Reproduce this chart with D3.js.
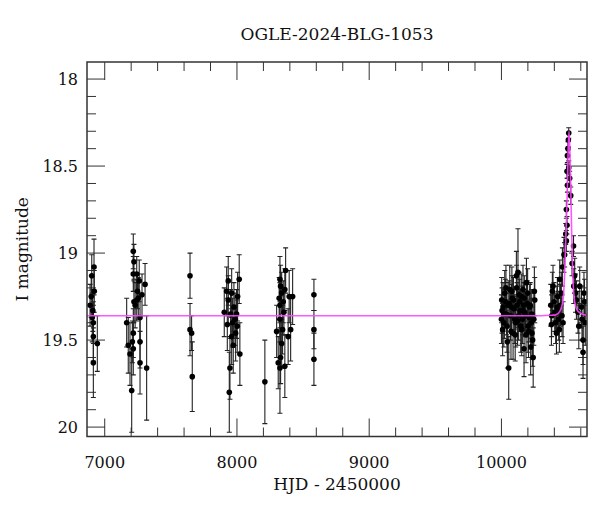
<!DOCTYPE html>
<html>
<head>
<meta charset="utf-8">
<script src="https://cdn.jsdelivr.net/npm/d3@7"></script>
<style>
  body { margin: 0; background: #fff; }
  text { font-family: 'DejaVu Serif', serif; fill: #111; }
</style>
</head>
<body>
<div id="chart"></div>
<script>
// photometry (HJD - 2450000, I mag, error)
const hjd = [
  6889, 6902, 6919, 6921, 6906, 6914, 6914, 6944, 6914, 6898, 6910,
  7166, 7178, 7191, 7204, 7216, 7216, 7209, 7216, 7221, 7216, 7221, 7242, 7242, 7261, 7254, 7267, 7267, 7267, 7282, 7305, 7317, 7248, 7230,
  7645, 7645, 7657, 7662,
  7904, 7922, 7927, 7934, 7942, 7947, 7952, 7960, 7960, 7967, 7972, 7977, 7985, 7990, 7997, 8005, 8017, 8022, 8002, 7934,
  8211,
  8300, 8312, 8325, 8330, 8338, 8325, 8330, 8338, 8319, 8325, 8325, 8345, 8355, 8362, 8368, 8362, 8350, 8387, 8395, 8406, 8421,
  8582, 8582, 8582,
  10000, 10012, 10025, 10045, 10055, 10063, 10076, 10088, 10101, 10113, 10125, 10138, 10146, 10163, 10171, 10176, 10189, 10201, 10214, 10221, 10231, 10252,
  10005, 10018, 10030, 10038, 10050, 10068, 10082, 10095, 10108, 10118, 10130, 10142, 10150, 10158, 10168, 10182, 10195, 10208, 10218, 10226, 10236, 10240,
  10002, 10009, 10022, 10034, 10042, 10058, 10072, 10079, 10091, 10104, 10115, 10122, 10134, 10153, 10161, 10173, 10186, 10198, 10205, 10229, 10245, 10249,
  10373, 10378, 10390, 10403, 10416, 10423, 10433, 10441, 10453, 10466, 10461, 10473, 10380, 10398, 10410, 10428, 10446, 10458, 10385, 10420, 10438,
  10509, 10499, 10496, 10509, 10499, 10524, 10491, 10496, 10486, 10545, 10478, 10534, 10491, 10503, 10506, 10516,
  10554, 10567, 10579, 10592, 10605, 10609, 10624, 10628, 10617, 10617, 10634, 10547, 10560, 10585
]
const mag = [
  19.30, 19.13, 19.08, 19.22, 19.37, 19.40, 19.48, 19.52, 19.63, 19.25, 19.33,
  19.40, 19.53, 19.58, 19.79, 19.46, 19.55, 19.51, 18.99, 19.05, 19.12, 19.28, 19.12, 19.27, 19.16, 19.26, 19.37, 19.51, 19.63, 19.24, 19.18, 19.66, 19.22, 19.30,
  19.13, 19.44, 19.46, 19.71,
  19.34, 19.22, 19.41, 19.27, 19.80, 19.66, 19.35, 19.23, 19.48, 19.40, 19.53, 19.31, 19.38, 19.46, 19.35, 19.25, 19.15, 19.58, 19.42, 19.16,
  19.74,
  19.45, 19.63, 19.66, 19.60, 19.52, 19.15, 19.19, 19.23, 19.26, 19.30, 19.38, 19.44, 19.34, 19.65, 19.10, 19.21, 19.28, 19.48, 19.25, 19.44, 19.25,
  19.24, 19.44, 19.61,
  19.38, 19.31, 19.23, 19.51, 19.66, 19.21, 19.31, 19.46, 19.38, 19.13, 19.11, 19.28, 19.42, 19.21, 19.55, 19.34, 19.17, 19.42, 19.31, 19.54, 19.46, 19.27,
  19.33, 19.40, 19.28, 19.35, 19.30, 19.36, 19.26, 19.32, 19.40, 19.30, 19.36, 19.33, 19.25, 19.38, 19.30, 19.36, 19.29, 19.37, 19.30, 19.40, 19.50, 19.60,
  19.27, 19.44, 19.35, 19.20, 19.42, 19.29, 19.45, 19.22, 19.27, 19.47, 19.20, 19.39, 19.24, 19.44, 19.33, 19.26, 19.47, 19.23, 19.45, 19.35, 19.38, 19.22,
  19.30, 19.41, 19.19, 19.34, 19.46, 19.25, 19.38, 19.15, 19.23, 19.40, 19.08, 19.01, 19.36, 19.28, 19.40, 19.33, 19.30, 19.36, 19.22, 19.31, 19.44,
  18.31, 18.44, 18.53, 18.51, 18.61, 18.67, 18.75, 18.84, 18.89, 18.96, 19.01, 19.06, 18.93, 18.40, 18.35, 18.57,
  19.13, 19.27, 19.34, 19.19, 19.31, 19.38, 19.23, 19.28, 19.50, 19.57, 19.40, 19.19, 19.23, 19.42
]
const magErr = [
  0.12, 0.12, 0.16, 0.12, 0.14, 0.12, 0.14, 0.16, 0.20, 0.12, 0.12,
  0.14, 0.16, 0.18, 0.24, 0.14, 0.15, 0.12, 0.10, 0.10, 0.10, 0.12, 0.10, 0.12, 0.12, 0.12, 0.14, 0.15, 0.18, 0.12, 0.12, 0.30, 0.10, 0.13,
  0.13, 0.15, 0.10, 0.20,
  0.14, 0.14, 0.15, 0.14, 0.23, 0.18, 0.14, 0.14, 0.16, 0.14, 0.16, 0.14, 0.15, 0.16, 0.14, 0.14, 0.14, 0.18, 0.15, 0.14,
  0.24,
  0.15, 0.15, 0.26, 0.15, 0.14, 0.13, 0.12, 0.12, 0.12, 0.13, 0.13, 0.14, 0.13, 0.18, 0.13, 0.12, 0.12, 0.16, 0.15, 0.18, 0.16,
  0.09, 0.11, 0.15,
  0.14, 0.14, 0.13, 0.15, 0.18, 0.14, 0.13, 0.15, 0.14, 0.14, 0.25, 0.13, 0.15, 0.14, 0.16, 0.13, 0.14, 0.15, 0.13, 0.16, 0.15, 0.13,
  0.13, 0.14, 0.13, 0.12, 0.13, 0.14, 0.13, 0.12, 0.14, 0.13, 0.14, 0.12, 0.13, 0.14, 0.13, 0.12, 0.13, 0.14, 0.13, 0.14, 0.15, 0.17,
  0.13, 0.15, 0.14, 0.13, 0.15, 0.13, 0.16, 0.14, 0.13, 0.15, 0.13, 0.14, 0.13, 0.15, 0.14, 0.13, 0.16, 0.14, 0.15, 0.14, 0.15, 0.14,
  0.12, 0.12, 0.12, 0.11, 0.12, 0.11, 0.12, 0.11, 0.12, 0.12, 0.11, 0.10, 0.12, 0.11, 0.12, 0.11, 0.12, 0.12, 0.11, 0.12, 0.13,
  0.03, 0.04, 0.04, 0.04, 0.04, 0.05, 0.05, 0.05, 0.06, 0.06, 0.07, 0.07, 0.06, 0.04, 0.04, 0.04,
  0.10, 0.11, 0.12, 0.11, 0.12, 0.12, 0.12, 0.13, 0.14, 0.15, 0.13, 0.10, 0.11, 0.13
]

// model light curve
const modelHjd = [6866, 10300, 10378, 10410, 10441, 10466, 10478, 10488, 10499, 10504, 10511, 10518, 10524, 10531, 10539, 10554, 10579, 10629, 10647]
const modelMag = [19.36, 19.36, 19.357, 19.355, 19.335, 19.27, 19.115, 18.885, 18.617, 18.425, 18.30, 18.425, 18.617, 18.885, 19.115, 19.28, 19.335, 19.355, 19.358]

const xMajor = [7000, 8000, 9000, 10000]
const yMajor = [18, 18.5, 19, 19.5, 20]

const margin = { top: 62, right: 13, bottom: 75.5, left: 87 }
const width = 600 - margin.left - margin.right
const height = 512 - margin.top - margin.bottom

const svg = d3.select('#chart')
  .append('svg')
  .attr('width', 600)
  .attr('height', 512)

const g = svg.append('g')
  .attr('transform', 'translate(' + margin.left + ',' + margin.top + ')')

const x = d3.scaleLinear().domain([6866, 10647]).range([0, width])
const y = d3.scaleLinear().domain([17.902, 20.054]).range([0, height])

g.append('clipPath').attr('id', 'clip')
  .append('rect').attr('width', width).attr('height', height)

// ticks on all four sides, major long and minor short
const xMinor = d3.range(6800, 10700, 200).filter(v => v >= 6866 && v <= 10647)
const yMinor = d3.range(17.9, 20.06, 0.1).map(v => +v.toFixed(1)).filter(v => v >= 17.902 && v <= 20.054)

function tickLen(major, v) { return major.some(m => Math.abs(m - v) < 1e-6) ? 18 : 9 }

const ticks = g.append('g').attr('stroke', '#333').attr('stroke-width', 1)
xMinor.forEach(v => {
  const L = tickLen(xMajor, v)
  ticks.append('line').attr('x1', x(v)).attr('x2', x(v)).attr('y1', height).attr('y2', height - L)
  ticks.append('line').attr('x1', x(v)).attr('x2', x(v)).attr('y1', 0).attr('y2', L)
})
yMinor.forEach(v => {
  const L = tickLen(yMajor, v)
  ticks.append('line').attr('y1', y(v)).attr('y2', y(v)).attr('x1', 0).attr('x2', L)
  ticks.append('line').attr('y1', y(v)).attr('y2', y(v)).attr('x1', width).attr('x2', width - L)
})

// tick labels
g.selectAll('.xl').data(xMajor).enter().append('text')
  .attr('x', d => x(d)).attr('y', height + 31)
  .attr('text-anchor', 'middle').attr('font-size', 16)
  .text(d => d)

g.selectAll('.yl').data(yMajor).enter().append('text')
  .attr('x', -9).attr('y', d => y(d)).attr('dy', '0.36em')
  .attr('text-anchor', 'end').attr('font-size', 16)
  .text(d => d)

// data with error bars
const pts = hjd.map((t, i) => ({ t: t, m: mag[i], e: magErr[i] }))
const plot = g.append('g').attr('clip-path', 'url(#clip)')

const bars = plot.append('g').attr('stroke', '#222').attr('stroke-width', 1.1)
pts.forEach(d => {
  const cx = x(d.t)
  bars.append('line').attr('x1', cx).attr('x2', cx).attr('y1', y(d.m - d.e)).attr('y2', y(d.m + d.e))
  bars.append('line').attr('x1', cx - 2.5).attr('x2', cx + 2.5).attr('y1', y(d.m - d.e)).attr('y2', y(d.m - d.e))
  bars.append('line').attr('x1', cx - 2.5).attr('x2', cx + 2.5).attr('y1', y(d.m + d.e)).attr('y2', y(d.m + d.e))
})

plot.selectAll('circle').data(pts).enter().append('circle')
  .attr('cx', d => x(d.t)).attr('cy', d => y(d.m))
  .attr('r', 2.8).attr('fill', '#000')

// model on top
const line = d3.line()
  .x((d, i) => x(modelHjd[i]))
  .y(d => y(d))
  .curve(d3.curveMonotoneX)

plot.append('path')
  .datum(modelMag)
  .attr('d', line)
  .attr('fill', 'none')
  .attr('stroke', '#ff44ff')
  .attr('stroke-opacity', 0.9)
  .attr('stroke-width', 1.6)

// frame
g.append('rect')
  .attr('width', width).attr('height', height)
  .attr('fill', 'none').attr('stroke', '#333').attr('stroke-width', 1.5)

// labels
svg.append('text')
  .attr('x', margin.left + width / 2).attr('y', 39.5)
  .attr('text-anchor', 'middle').attr('font-size', 17)
  .text('OGLE-2024-BLG-1053')

svg.append('text')
  .attr('x', margin.left + width / 2).attr('y', 490)
  .attr('text-anchor', 'middle').attr('font-size', 17)
  .text('HJD - 2450000')

svg.append('text')
  .attr('transform', 'translate(28,' + (margin.top + height / 2) + ') rotate(-90)')
  .attr('text-anchor', 'middle').attr('font-size', 17)
  .text('I magnitude')
</script>
</body>
</html>
